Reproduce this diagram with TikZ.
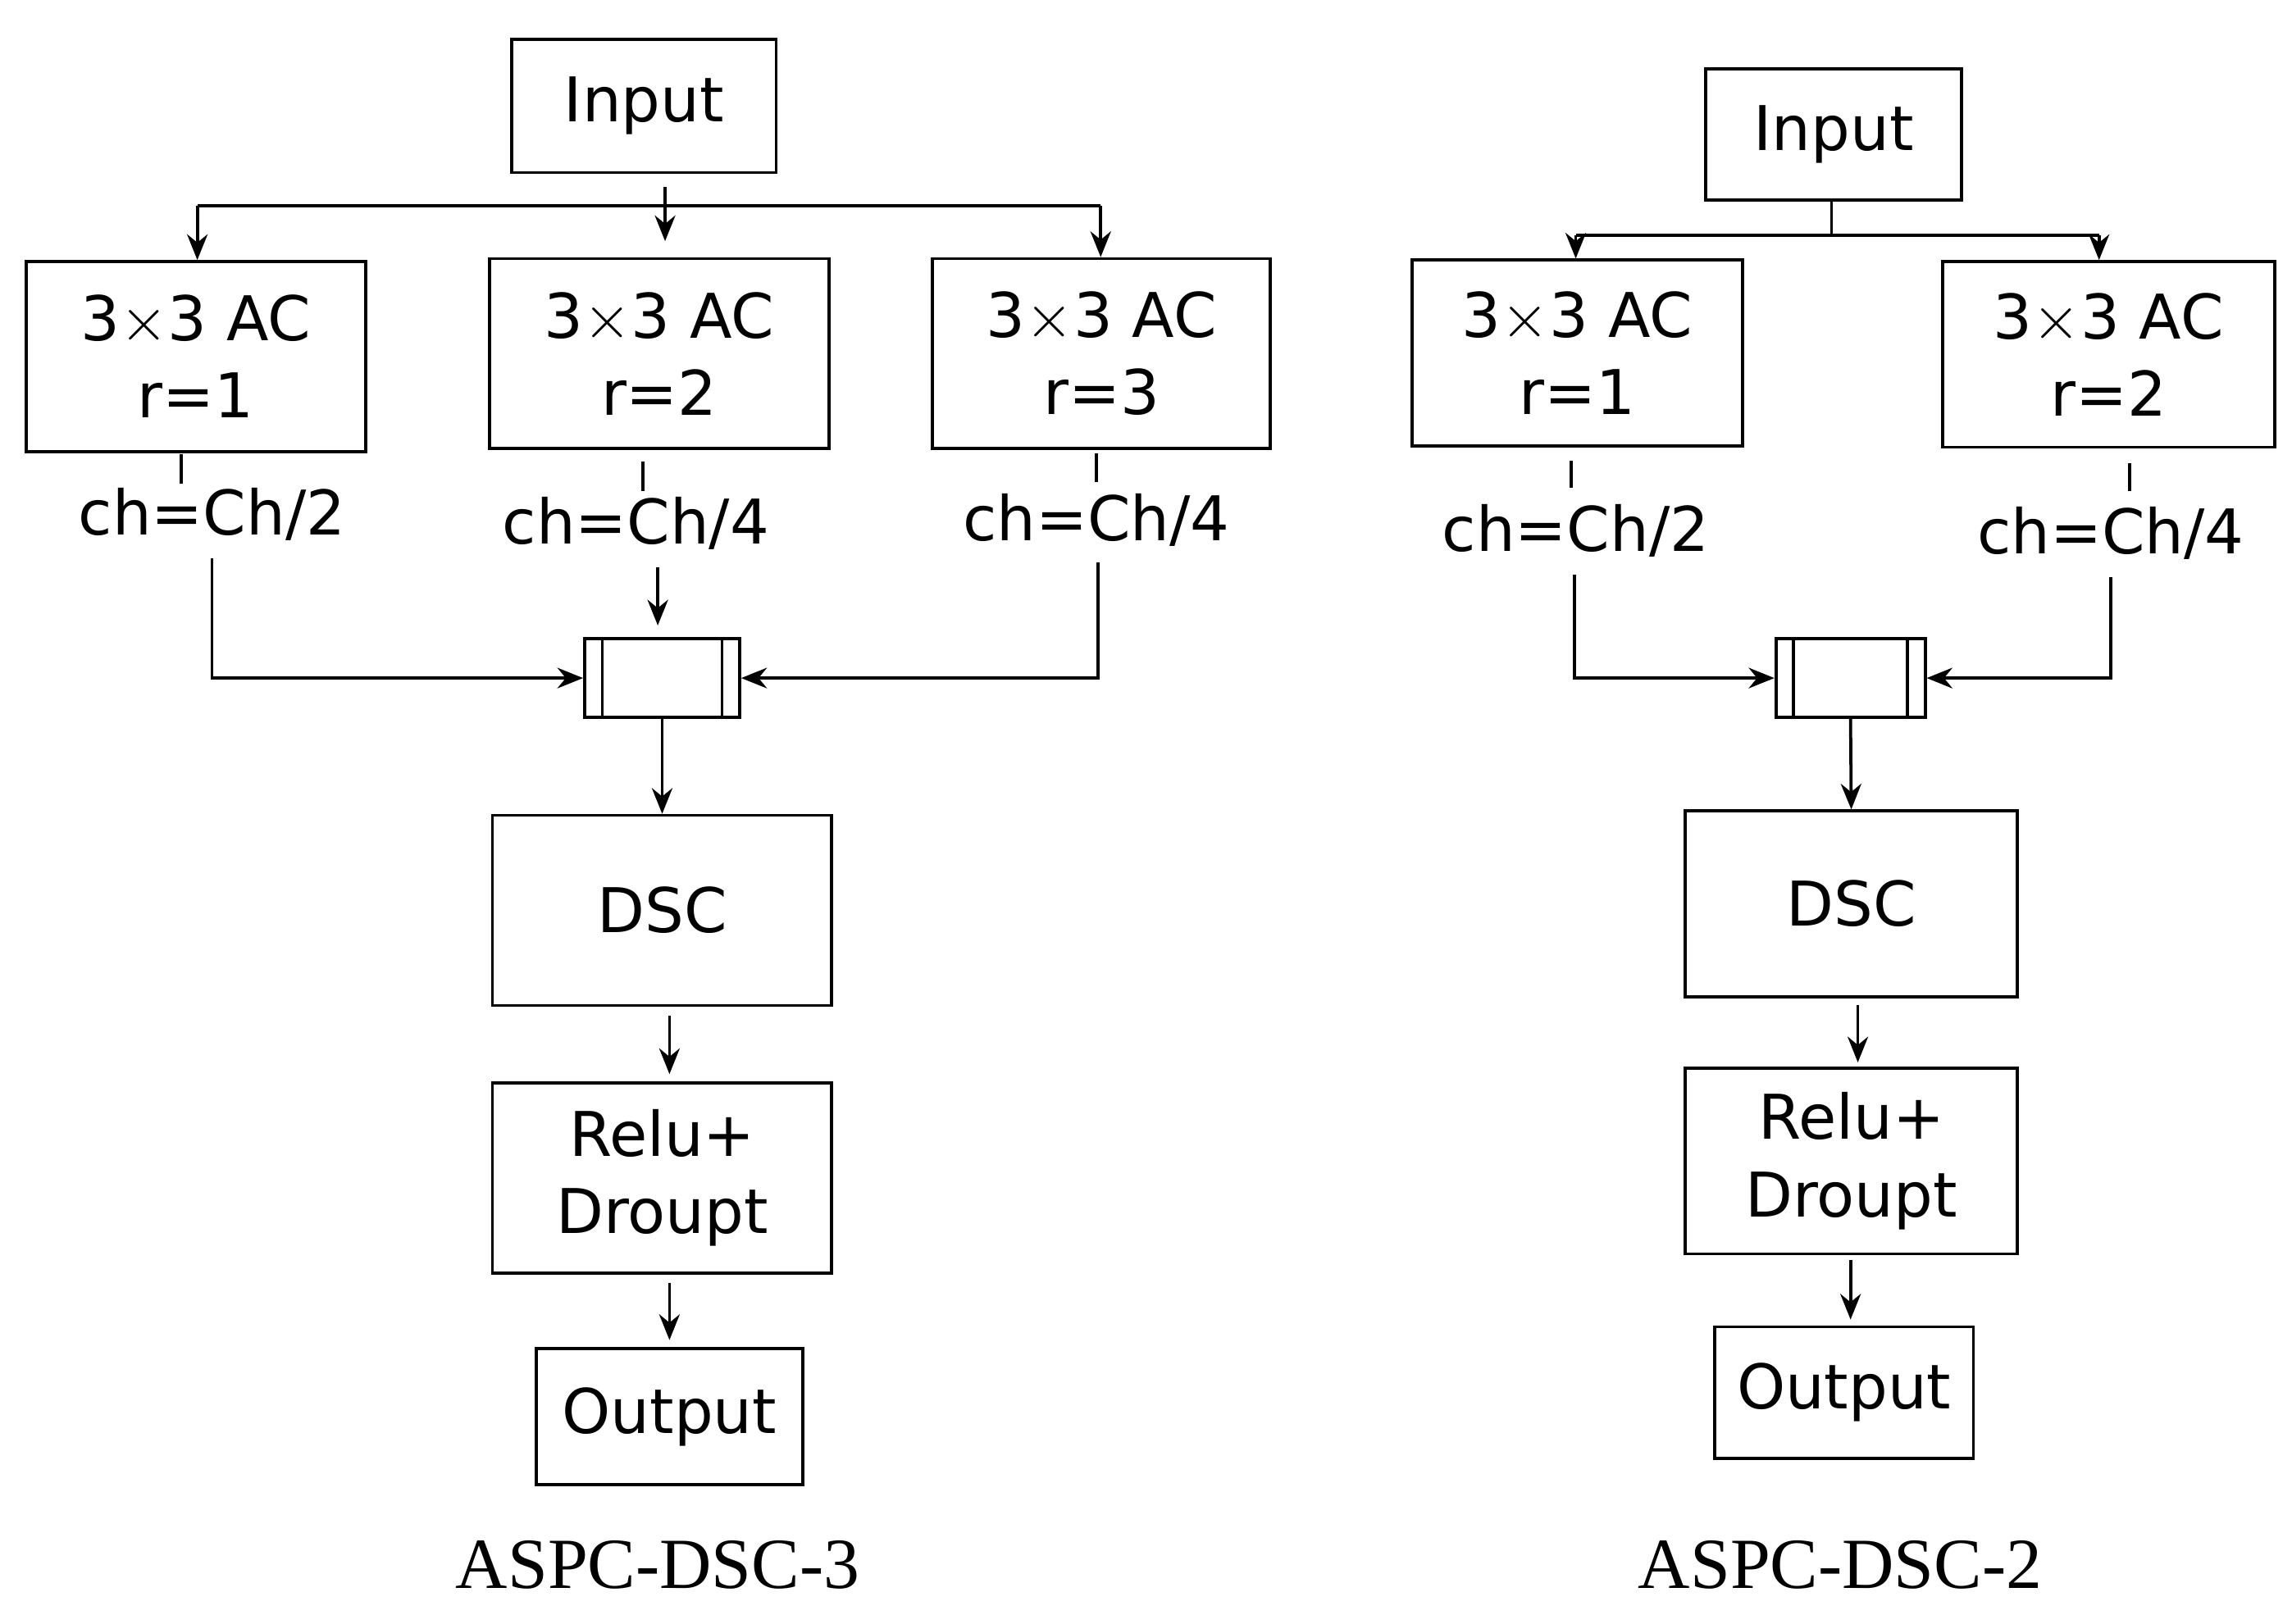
\documentclass[tikz,border=0pt]{standalone}
\usepackage{fontspec}
\setmainfont{DejaVu Sans}
\newfontfamily\capfont{Liberation Serif}
\usetikzlibrary{arrows.meta}
\begin{document}
\begin{tikzpicture}[x=0.01cm,y=-0.01cm,line width=0.6pt,
  box/.style={draw,inner sep=0pt,font=\fontsize{12}{15}\selectfont,align=center},
  lbl/.style={inner sep=1pt,font=\fontsize{12}{15}\selectfont},
  captxt/.style={inner sep=0pt,font=\capfont\fontsize{14}{16}\selectfont},
  arr/.style={-{Stealth[length=5pt,width=4pt]}}]
\useasboundingbox (0,0) rectangle (1568,1111);
\fill[white] (0,0) rectangle (1568,1111);
% ---------- Left ----------
\node[box,minimum width=1.81cm,minimum height=0.91cm] (inL) at (440.5,72.5) {Input};
\node[box,minimum width=2.32cm,minimum height=1.30cm] (a1) at (134,244) {3$\times$3 AC\\r=1};
\node[box,minimum width=2.32cm,minimum height=1.30cm] (a2) at (451,242) {3$\times$3 AC\\r=2};
\node[box,minimum width=2.31cm,minimum height=1.30cm] (a3) at (753.5,242) {3$\times$3 AC\\r=3};
\node[lbl] (c1) at (145,352) {ch=Ch/2};
\node[lbl] (c2) at (435,358) {ch=Ch/4};
\node[lbl] (c3) at (750,356) {ch=Ch/4};
\node[draw,inner sep=0pt,minimum width=1.06cm,minimum height=0.54cm] (cc) at (453,464) {};
\draw (412,437) -- (412,491) (494,437) -- (494,491);
\node[box,minimum width=2.32cm,minimum height=1.30cm] (dsc) at (453,623) {DSC};
\node[box,minimum width=2.32cm,minimum height=1.30cm] (rel) at (453,806) {Relu+\\Droupt};
\node[box,minimum width=1.82cm,minimum height=0.93cm] (out) at (458,969.5) {Output};
\node[captxt] (capL) at (450,1071) {ASPC-DSC-3};
\coordinate (j0) at (455,128);
\coordinate (j1) at (455,141);
\draw (j0) -- (j1);
\draw (135,141) -- (753,141);
\draw[arr] (135,141) -- (a1.north -| 135,0);
\draw[arr] (j1) -- (455,165);
\draw[arr] (753,141) -- (a3.north -| 753,0);
\draw (124,311) -- (124,331);
\draw (440,316) -- (440,336);
\draw (750,310) -- (750,330);
\draw[arr] (145,382) -- (145,464) -- (cc.west);
\draw[arr] (450,388) -- (450,428);
\draw[arr] (751,385) -- (751,464) -- (cc.east);
\draw[arr] (cc.south) -- (dsc.north);
\draw[arr] (458,695) -- (458,735);
\draw[arr] (458,878) -- (458,917);
% ---------- Right ----------
\node[box,minimum width=1.75cm,minimum height=0.90cm] (inR) at (1254.5,92) {Input};
\node[box,minimum width=2.26cm,minimum height=1.27cm] (b1) at (1079,241.5) {3$\times$3 AC\\r=1};
\node[box,minimum width=2.27cm,minimum height=1.27cm] (b2) at (1442.5,242.5) {3$\times$3 AC\\r=2};
\node[lbl] (d1) at (1078,363) {ch=Ch/2};
\node[lbl] (d2) at (1444,365) {ch=Ch/4};
\node[draw,inner sep=0pt,minimum width=1.02cm,minimum height=0.54cm] (cr) at (1266,464) {};
\draw (1227,437) -- (1227,491) (1305,437) -- (1305,491);
\node[box,minimum width=2.27cm,minimum height=1.27cm] (dscR) at (1266.5,618.5) {DSC};
\node[box,minimum width=2.27cm,minimum height=1.27cm] (relR) at (1266.5,794.5) {Relu+\\Droupt};
\node[box,minimum width=1.77cm,minimum height=0.90cm] (outR) at (1261.5,953) {Output};
\node[captxt] (capR) at (1259,1071) {ASPC-DSC-2};
\draw (inR.south -| 1253,0) -- (1253,161);
\draw (1078,161) -- (1436,161);
\draw[arr] (1078,161) -- (b1.north -| 1078,0);
\draw[arr] (1436,161) -- (b2.north -| 1436,0);
\draw (1075,315) -- (1075,334);
\draw (1457,317) -- (1457,336);
\draw[arr] (1077,393) -- (1077,464) -- (cr.west);
\draw[arr] (1444,395) -- (1444,464) -- (cr.east);
\draw[arr] (cr.south) -- (dscR.north);
\draw[arr] (1271,688) -- (1271,727);
\draw[arr] (1266,862) -- (1266,903);
\end{tikzpicture}
\end{document}
